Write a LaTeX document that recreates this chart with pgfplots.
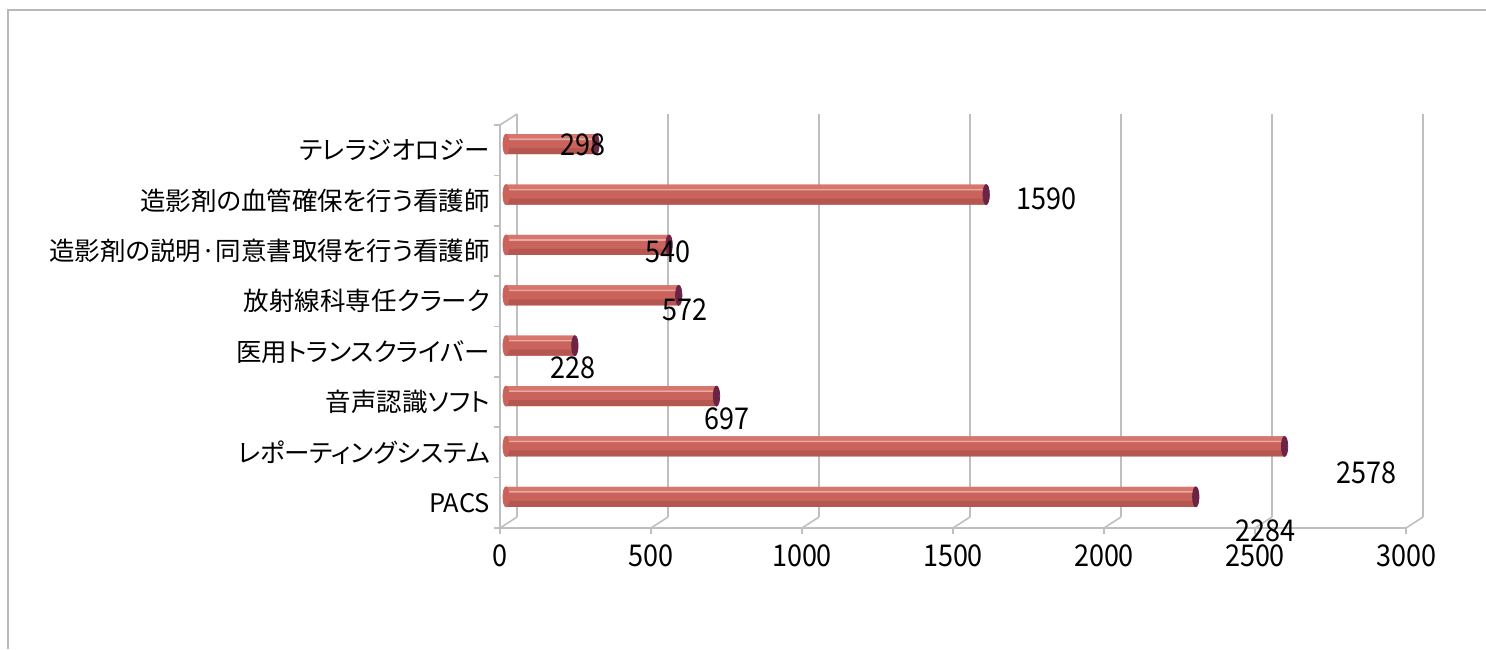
\documentclass[border=0pt]{standalone}
\usepackage{fontspec}
\setmainfont{Noto Sans CJK JP}
\newfontfamily\numfont[FakeStretch=0.9]{Noto Sans CJK JP}
\newfontfamily\catfont[RawFeature=+palt]{Noto Sans CJK JP}
\usepackage{pgfplots}
\usepackage{pgfplotstable}
\pgfplotsset{compat=1.18}

\definecolor{barT}{HTML}{D8766E}
\definecolor{barL}{HTML}{E8ABA4}
\definecolor{barM}{HTML}{C9635B}
\definecolor{barD}{HTML}{B65650}
\definecolor{capC}{HTML}{6B2445}
\definecolor{gridC}{HTML}{BFBFBF}

% y = category index (0 = PACS), val = value, lx/ly = where the value label sits
\pgfplotstableread{
y val lx ly
0 2284 2536 -0.56
1 2578 2868 0.59
2 697 752 1.66
3 228 242 2.68
4 572 613 3.83
5 540 556 4.98
6 1590 1808 6.03
7 298 275 7.10
}\data

\begin{document}
\begin{tikzpicture}
\useasboundingbox (0,0) rectangle (743pt,324.5pt);
\draw[gray!55, line width=1.2pt] (4pt,0) -- (4pt,319.5pt) -- (743pt,319.5pt);

% back wall with the grid
\begin{axis}[
    at={(258.5pt,66pt)}, anchor=south west,
    width=453pt, height=201.5pt, scale only axis,
    xmin=0, xmax=3000, ymin=-0.5, ymax=7.5,
    axis line style={draw=none},
    xtick={0,500,...,3000}, ytick=\empty,
    xticklabels={}, major tick length=0pt,
    xmajorgrids, grid style={gridC, line width=0.8pt},
]
\end{axis}

% floor and left wall edges
\draw[gridC, line width=0.8pt] (250pt,262pt) -- (250pt,60.5pt) -- (703pt,60.5pt);
\draw[gridC, line width=0.8pt] (250pt,262pt) -- (258.5pt,267.5pt);
\foreach \v in {0,500,...,3000}
  \draw[gridC, line width=0.8pt] ({250pt+\v*0.151pt},60.5pt) -- ({258.5pt+\v*0.151pt},66pt);

% cylinders
\begin{axis}[
    at={(253pt,63.5pt)}, anchor=south west,
    width=453pt, height=201.5pt, scale only axis,
    xmin=0, xmax=3000, ymin=-0.5, ymax=7.5,
    hide axis, clip=false,
]
\addplot[xbar, bar width=10pt, draw=none, fill=barM] table[x=val, y=y] {\data};
\addplot[xbar, bar width=3pt, bar shift=-3.5pt, draw=none, fill=barD] table[x=val, y=y] {\data};
\addplot[xbar, bar width=2pt, bar shift=4pt, draw=none, fill=barT] table[x=val, y=y] {\data};
\addplot[xbar, bar width=0.8pt, bar shift=2.5pt, draw=none, fill=barL] table[x=val, y=y] {\data};
\addplot[barM, only marks, mark=*, mark size=5pt, mark options={xscale=0.3, fill=barM, draw=none}]
  coordinates {(0,0) (0,1) (0,2) (0,3) (0,4) (0,5) (0,6) (0,7)};
\addplot[capC, only marks, mark=*, mark size=5pt, mark options={xscale=0.32, fill=capC, draw=none}]
  table[x=val, y=y] {\data};
\end{axis}

% front: ticks, labels, values
\begin{axis}[
    at={(250pt,60.5pt)}, anchor=south west,
    width=453pt, height=201.5pt, scale only axis,
    xmin=0, xmax=3000, ymin=-0.5, ymax=7.5,
    axis line style={draw=none}, clip=false,
    xtick={0,500,...,3000},
    ytick={0,...,7},
    yticklabels={PACS,レポーティングシステム,音声認識ソフト,医用トランスクライバー,放射線科専任クラーク,造影剤の説明·同意書取得を行う看護師,造影剤の血管確保を行う看護師,テレラジオロジー},
    minor ytick={-0.5,0.5,...,7.5},
    tick align=outside, tick pos=left,
    major tick length=3pt, minor tick length=3pt,
    every major y tick/.append style={draw=none},
    tick style={gridC, line width=0.8pt},
    /pgf/number format/assume math mode=true,
    /pgf/number format/1000 sep={},
    xticklabel style={font=\numfont\fontsize{15}{15}\selectfont, yshift=-2pt},
    yticklabel style={font=\catfont\fontsize{12.75}{14}\selectfont, xshift=1.5pt},
]
\addplot[draw=none, mark=none, nodes near coords, point meta=explicit symbolic,
  nodes near coords style={anchor=center, font=\numfont\fontsize{15}{15}\selectfont, text=black}]
  table[x=lx, y=ly, meta=val] {\data};
\end{axis}
\end{tikzpicture}
\end{document}
